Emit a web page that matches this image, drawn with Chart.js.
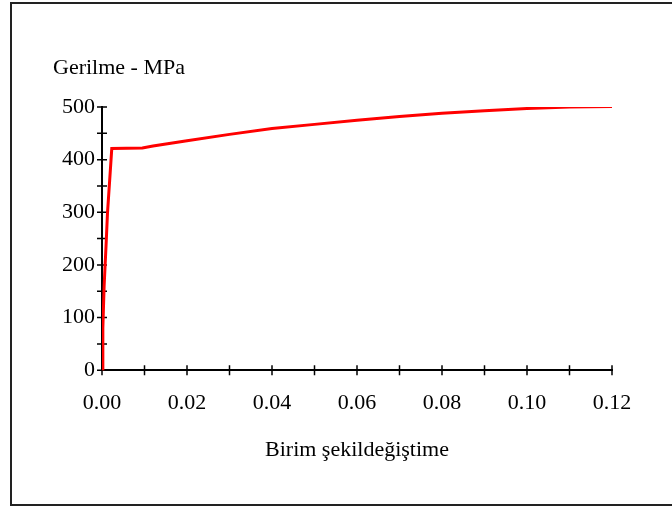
<!DOCTYPE html>
<html>
<head>
<meta charset="utf-8">
<title>Gerilme - Birim şekildeğiştime</title>
<script src="https://cdn.jsdelivr.net/npm/chart.js@4.4.1/dist/chart.umd.min.js"></script>
<style>
  body { margin: 0; background: #fff; }
  #frame { position: absolute; left: 10px; top: 2px; width: 720px; height: 500px; border: 2px solid #222; }
  #wrap { position: absolute; left: 0; top: 0; width: 672px; height: 508px; }
</style>
</head>
<body>
<div id="frame"></div>
<div id="wrap"><canvas id="chart"></canvas></div>
<script>
// stress-strain curve
const strain = [0, 0.0002, 0.0005, 0.001, 0.0013, 0.0018, 0.0023, 0.0095, 0.012, 0.02, 0.03, 0.04, 0.05, 0.06, 0.07, 0.08, 0.09, 0.10, 0.11, 0.12];
const stress = [0, 80, 160, 245, 300, 360, 421, 422, 426, 436, 448, 459, 467, 475, 482, 488, 493, 497, 500, 501];

const xLabels = ["0.00", "0.02", "0.04", "0.06", "0.08", "0.10", "0.12"];
const yLabels = ["0", "100", "200", "300", "400", "500"];

const yTitle = "Gerilme - MPa";
const xTitle = "Birim şekildeğiştime";

Chart.defaults.font.family = '"Liberation Serif", "Times New Roman", serif';
Chart.defaults.font.size = 22;
Chart.defaults.color = "#000";

// small ticks crossing both axes, like the original
const crossTicks = {
  id: "crossTicks",
  beforeDatasetsDraw(chart) {
    const ctx = chart.ctx;
    const xs = chart.scales.x;
    const ys = chart.scales.y;
    const x0 = xs.getPixelForValue(0);
    const y0 = ys.getPixelForValue(0);
    ctx.save();
    ctx.strokeStyle = "#000";
    ctx.lineWidth = 1.5;
    ctx.beginPath();
    xs.ticks.forEach(t => {
      const px = xs.getPixelForValue(t.value);
      ctx.moveTo(px, y0 - 5);
      ctx.lineTo(px, y0 + 5);
    });
    ys.ticks.forEach(t => {
      const py = ys.getPixelForValue(t.value);
      ctx.moveTo(x0 - 5, py);
      ctx.lineTo(x0 + 5, py);
    });
    ctx.stroke();
    ctx.restore();
  }
};

const ctx = document.getElementById("chart").getContext("2d");
new Chart(ctx, {
  type: "line",
  data: {
    datasets: [{
      data: strain.map((x, i) => ({ x: x, y: stress[i] })),
      borderColor: "#ff0000",
      borderWidth: 3,
      pointRadius: 0,
      tension: 0,
      fill: false
    }]
  },
  options: {
    responsive: true,
    maintainAspectRatio: false,
    animation: false,
    layout: { padding: { left: 53, right: 60, top: 0, bottom: 42 } },
    plugins: {
      legend: { display: false },
      tooltip: { enabled: false },
      title: {
        display: true,
        text: yTitle,
        align: "start",
        font: { size: 22, weight: "normal" },
        color: "#000",
        padding: { top: 55, bottom: 25.6 }
      }
    },
    scales: {
      x: {
        type: "linear",
        min: 0,
        max: 0.12,
        grid: { display: false, drawTicks: false },
        border: { display: true, color: "#000", width: 2 },
        ticks: {
          stepSize: 0.01,
          autoSkip: false,
          maxRotation: 0,
          padding: 20,
          callback: v => {
            const s = v.toFixed(2);
            return xLabels.includes(s) ? s : "";
          }
        },
        title: {
          display: true,
          text: xTitle,
          font: { size: 22 },
          color: "#000",
          padding: { top: 0, bottom: 3 }
        }
      },
      y: {
        min: 0,
        max: 500,
        grid: { display: false, drawTicks: false },
        border: { display: true, color: "#000", width: 2 },
        afterFit: s => { s.width = 49; },
        ticks: {
          stepSize: 50,
          autoSkip: false,
          padding: 7,
          callback: v => {
            const s = String(Math.round(v));
            return yLabels.includes(s) ? s : "";
          }
        }
      }
    }
  },
  plugins: [crossTicks]
});
</script>
</body>
</html>
